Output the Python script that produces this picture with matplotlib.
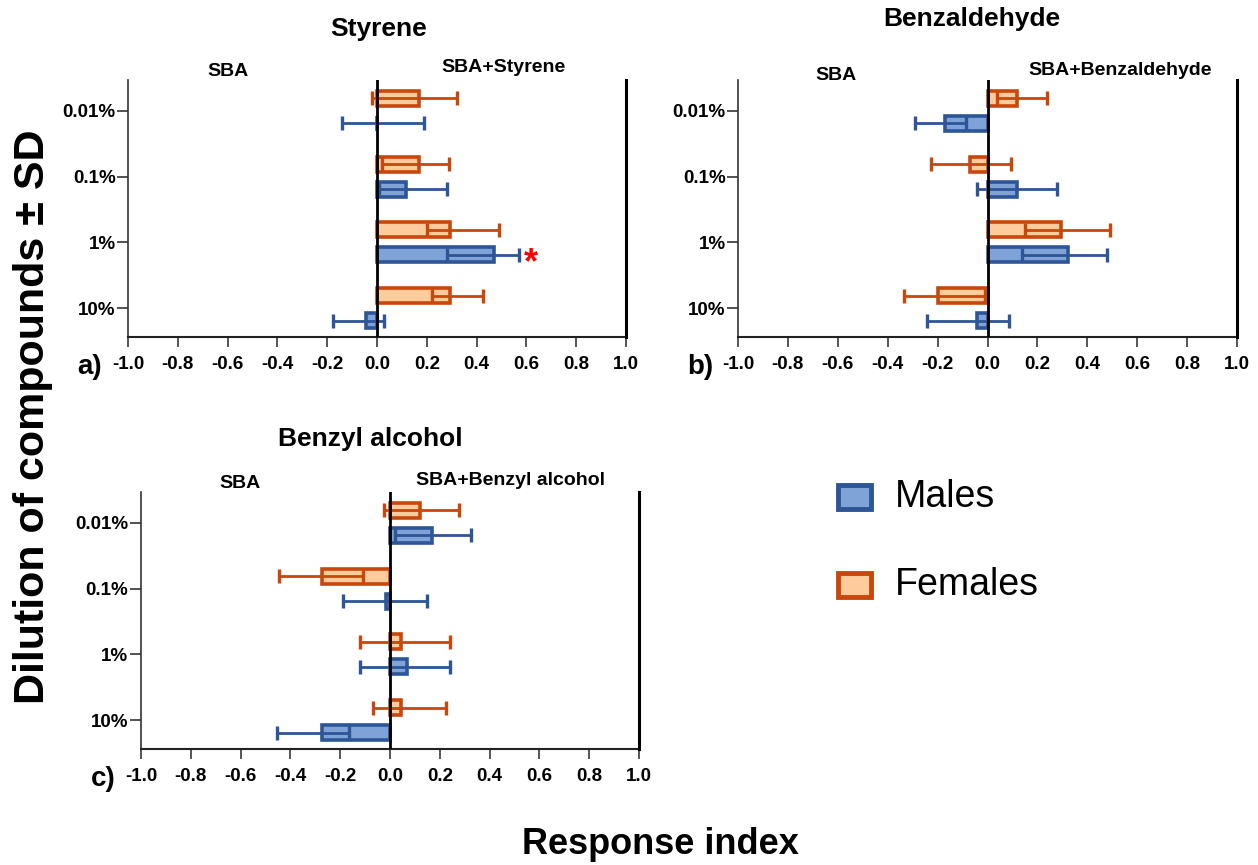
import matplotlib
matplotlib.use("Agg")
import matplotlib.pyplot as plt
import numpy as np
from matplotlib.patches import Rectangle

plt.rcParams['font.family'] = ['Liberation Sans', 'DejaVu Sans']

categories = ["0.01%", "0.1%", "1%", "10%"]
xticks = [-1.0, -0.8, -0.6, -0.4, -0.2, 0.0, 0.2, 0.4, 0.6, 0.8, 1.0]

# Styrene
sty_f = [0.17, 0.17, 0.295, 0.295]
sty_f_lo = [-0.02, 0.02, 0.20, 0.22]
sty_f_hi = [0.32, 0.29, 0.49, 0.425]
sty_m = [0.0, 0.117, 0.47, -0.046]
sty_m_lo = [-0.142, 0.01, 0.28, -0.178]
sty_m_hi = [0.188, 0.28, 0.57, 0.027]

# Benzaldehyde
bzd_f = [0.12, -0.071, 0.295, -0.197]
bzd_f_lo = [0.04, -0.225, 0.151, -0.336]
bzd_f_hi = [0.24, 0.096, 0.489, -0.009]
bzd_m = [-0.172, 0.12, 0.321, -0.044]
bzd_m_lo = [-0.289, -0.044, 0.138, -0.243]
bzd_m_hi = [-0.087, 0.277, 0.477, 0.086]

# Benzyl alcohol
bza_f = [0.12, -0.273, 0.044, 0.044]
bza_f_lo = [-0.025, -0.446, -0.120, -0.068]
bza_f_hi = [0.276, -0.110, 0.242, 0.226]
bza_m = [0.169, -0.015, 0.069, -0.273]
bza_m_lo = [0.019, -0.189, -0.120, -0.454]
bza_m_hi = [0.325, 0.147, 0.242, -0.163]

M_FILL, M_EDGE = "#7FA3D7", "#2D5597"
F_FILL, F_EDGE = "#FDCB9C", "#C9470B"

W, H = 1258, 865
fig = plt.figure(figsize=(W / 100, H / 100), dpi=100)


def fx(px):
    return px / W


def fy(py):
    return 1 - py / H


OFF = 0.19


def panel(rect, f, flo, fhi, m, mlo, mhi):
    ax = fig.add_axes(rect)
    ypos = np.arange(len(categories))[::-1].astype(float)
    h = 0.225
    for vals, lo, hi, sgn, fill, edge in [(f, flo, fhi, -1, F_FILL, F_EDGE),
                                          (m, mlo, mhi, 1, M_FILL, M_EDGE)]:
        yy = ypos + (-sgn) * OFF
        ax.barh(yy, vals, height=h, color=fill, edgecolor=edge, linewidth=2.6, zorder=2)
        ax.hlines(yy, lo, hi, color=edge, linewidth=2.0, zorder=3)
        ax.plot(lo, yy, marker='|', markersize=10, mew=2.4, color=edge, ls='none', zorder=3)
        ax.plot(hi, yy, marker='|', markersize=10, mew=2.4, color=edge, ls='none', zorder=3)
    ax.set_xlim(-1.0, 1.0)
    ax.set_ylim(-0.44, 3.47)
    ax.axvline(0, color='black', linewidth=2.0, zorder=4)
    ax.axvline(1.0, color='black', linewidth=2.2, zorder=4, clip_on=False)
    ax.set_yticks(ypos)
    ax.set_yticklabels(categories, fontsize=13.5, fontweight='bold')
    ax.set_xticks(xticks)
    ax.set_xticklabels([f"{v:.1f}" for v in xticks], fontsize=13.5, fontweight='bold')
    for s in ['top', 'right']:
        ax.spines[s].set_visible(False)
    ax.spines['left'].set_color('#333333')
    ax.spines['left'].set_linewidth(1.2)
    ax.spines['bottom'].set_color('#222222')
    ax.spines['bottom'].set_linewidth(1.5)
    ax.tick_params(axis='x', length=7, width=1.4, color='#555555', pad=7)
    ax.tick_params(axis='y', length=8, width=1.2, color='#333333', pad=1)
    return ax, ypos


ax_a, yp = panel([fx(128), fy(337), fx(626) - fx(128), fy(80) - fy(337)],
                 sty_f, sty_f_lo, sty_f_hi, sty_m, sty_m_lo, sty_m_hi)
ax_b, _ = panel([fx(738), fy(337), fx(1237) - fx(738), fy(80) - fy(337)],
                bzd_f, bzd_f_lo, bzd_f_hi, bzd_m, bzd_m_lo, bzd_m_hi)
ax_c, _ = panel([fx(141), fy(749), fx(639) - fx(141), fy(492) - fy(749)],
                bza_f, bza_f_lo, bza_f_hi, bza_m, bza_m_lo, bza_m_hi)

# significance star (Styrene, 1%, males)
ax_a.text(0.62, yp[2] - OFF - 0.13, "*", color='red', fontsize=26,
          fontweight='bold', ha='center', va='center')

# titles and subheaders
bold = dict(fontweight='bold', ha='center', va='baseline')
fig.text(fx(379), fy(36), "Styrene", fontsize=19, **bold)
fig.text(fx(972), fy(26), "Benzaldehyde", fontsize=19, **bold)
fig.text(fx(370), fy(446), "Benzyl alcohol", fontsize=19, **bold)

fig.text(fx(228), fy(76), "SBA", fontsize=14, **bold)
fig.text(fx(503), fy(72), "SBA+Styrene", fontsize=14, **bold)
fig.text(fx(836), fy(80), "SBA", fontsize=14, **bold)
fig.text(fx(1120), fy(75), "SBA+Benzaldehyde", fontsize=14, **bold)
fig.text(fx(240), fy(488), "SBA", fontsize=14, **bold)
fig.text(fx(510), fy(485), "SBA+Benzyl alcohol", fontsize=14, **bold)

fig.text(fx(90), fy(374), "a)", fontsize=20, **bold)
fig.text(fx(700), fy(374), "b)", fontsize=20, **bold)
fig.text(fx(103), fy(786), "c)", fontsize=20, **bold)

fig.text(fx(33), fy(417), "Dilution of compounds \u00b1 SD", rotation=90, ha='center',
         va='center', fontsize=31, fontweight='bold')
fig.text(fx(660), fy(845), "Response index", ha='center', va='center', fontsize=26,
         fontweight='bold')

# legend
for (label, fill, edge, py) in [("Males", M_FILL, M_EDGE, 497), ("Females", F_FILL, F_EDGE, 585)]:
    fig.patches.append(Rectangle((fx(838), fy(py + 12)), fx(871) - fx(838), fy(py - 12) - fy(py + 12),
                                 transform=fig.transFigure, facecolor=fill, edgecolor=edge,
                                 linewidth=3.5))
    fig.text(fx(895), fy(py), label, ha='left', va='center', fontsize=27)

fig.savefig("out.png", dpi=100)
